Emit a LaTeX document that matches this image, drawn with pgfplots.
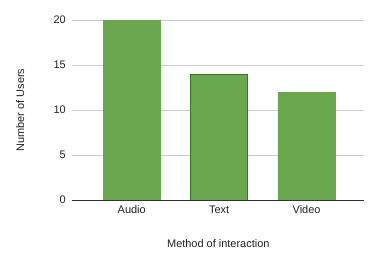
\documentclass[border=0pt]{standalone}
\usepackage{pgfplots}
\pgfplotsset{compat=1.18}
\usepackage{fontspec}
\setmainfont{Liberation Sans}
\definecolor{barfill}{HTML}{6AA84F}
\definecolor{bardark}{HTML}{38761D}
\definecolor{gridc}{HTML}{CCCCCC}
\definecolor{axisc}{HTML}{333333}
\definecolor{txt}{HTML}{222222}
\begin{document}
\begin{tikzpicture}
\path[use as bounding box] (-72.3bp,-66bp) rectangle (305.7bp,200bp);
\begin{axis}[
  at={(0,0)}, anchor=south west,
  scale only axis, width=292bp, height=180bp,
  xmin=-0.68, xmax=2.66, ymin=0, ymax=20,
  xtick={0,1,2}, xticklabels={Audio,Text,Video},
  ytick={0,5,10,15,20},
  /pgf/number format/assume math mode=true,
  ymajorgrids, grid style={gridc, line width=0.8pt},
  axis line style={draw=none},
  axis x line*=bottom, axis y line*=left,
  major tick length=0pt,
  tick label style={font=\fontsize{11}{13}\selectfont, text=txt},
  yticklabel style={xshift=-3bp},
  xticklabel style={yshift=-2bp},
  xlabel={Method of interaction}, ylabel={Number of Users},
  label style={font=\fontsize{11}{13}\selectfont, text=txt},
  xlabel style={at={(axis description cs:0.5,0)}, anchor=center, yshift=-44bp},
  every axis y label/.append style={at={(-52bp,90bp)}, anchor=center},
  ybar, bar width=0.655, bar shift=0pt,
  clip=false,
]
\addplot[fill=barfill, draw=barfill] coordinates {(0,20) (2,12)};
\addplot[fill=barfill, draw=bardark, line width=0.8pt] coordinates {(1,14)};
\draw[axisc, line width=0.9pt] (axis cs:-0.68,0) -- (axis cs:2.66,0);
\end{axis}
\end{tikzpicture}
\end{document}
